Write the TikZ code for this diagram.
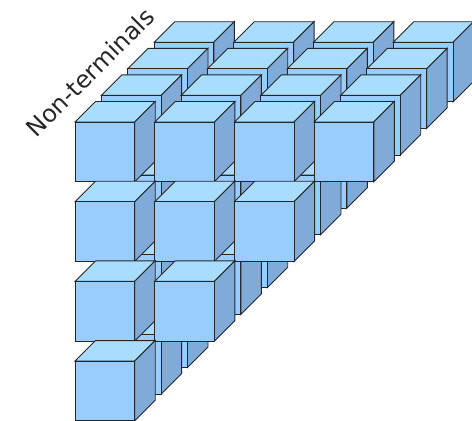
\documentclass[tikz,border=0pt]{standalone}
\usepackage{fontspec}
\setsansfont{DejaVu Sans}

\newcommand{\drawcube}[2]{
  \draw[top face] (#1,#2) -- ++(20.5,-20.5) -- ++(59.7,0) -- ++(-20.5,20.5) -- cycle;
  \draw[side face] (#1+59.7,#2) -- ++(20.5,-20.5) -- ++(0,59.7) -- ++(-20.5,20.5) -- cycle;
  \draw[front face] (#1,#2) rectangle ++(59.7,59.7);
}

\begin{document}
\begin{tikzpicture}[x=1pt,y=-1pt,line join=miter,
  top face/.style={draw=black!85,fill=topblue,line width=0.9pt},
  side face/.style={draw=black!85,fill=sideblue,line width=0.9pt},
  front face/.style={draw=black!85,fill=frontblue,line width=0.9pt},
  title node/.style={font=\sffamily\fontsize{24}{24}\selectfont,text=black!85,rotate=45,inner sep=0pt}]
  \definecolor{topblue}{HTML}{A8DDFF}
  \definecolor{sideblue}{HTML}{80AAD8}
  \definecolor{frontblue}{HTML}{99CCFF}

  \useasboundingbox (0,0) rectangle (472,421);

  % layers from the back to the front, columns shrink with the row
  \foreach \layer in {3,2,1,0}
    \foreach \row in {0,1,2,3}{
      \pgfmathtruncatemacro{\lastcol}{3-\row}
      \foreach \col in {0,...,\lastcol}{
        \drawcube{75+79.7*\col+26.4*\layer}{122+79.7*\row-26.6*\layer}
      }
    }

  \node[title node] (title) at (90,72) {Non-terminals};
\end{tikzpicture}
\end{document}
